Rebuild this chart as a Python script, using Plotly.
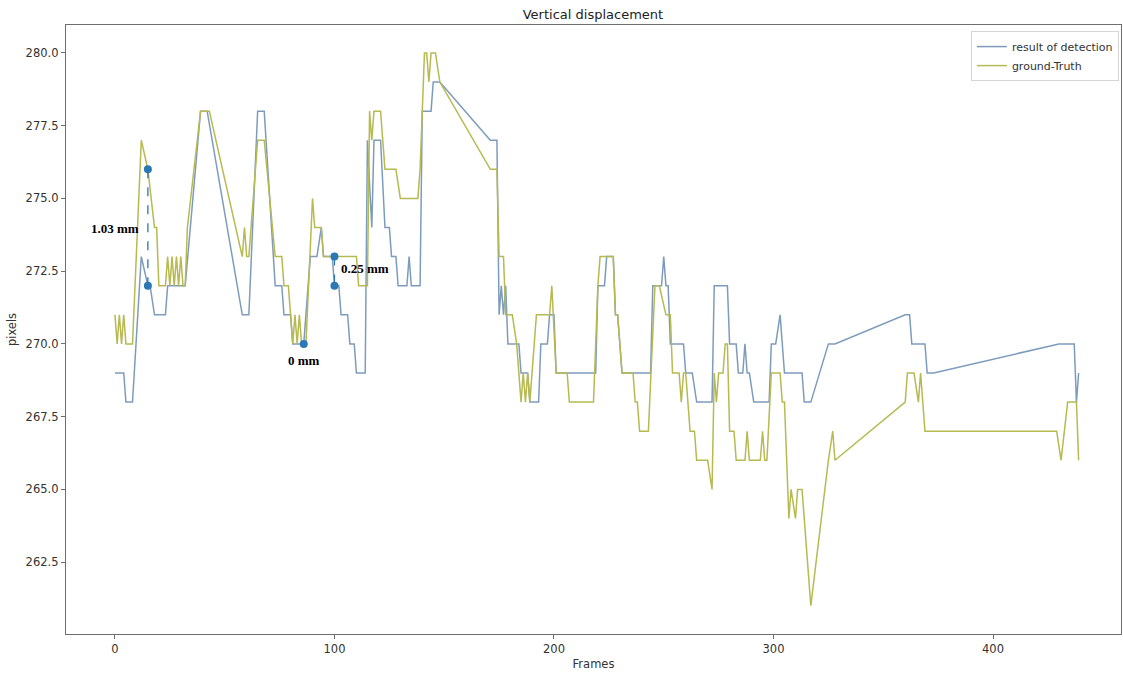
import plotly.graph_objects as go

# result of detection (vertices: frame, pixel)
DET_FRAMES = [0, 4, 5, 8, 12, 15, 16, 18, 23, 24, 32, 39, 42, 58, 61, 65, 68, 73, 76, 77, 80, 81, 86,
              89, 92, 94, 95, 99, 100, 102, 103, 106, 107, 109, 110, 114, 115, 117, 118, 121, 123, 125,
              126, 128, 129, 133, 134, 135, 139, 140, 144, 145, 148, 171, 174, 175, 176, 177, 178, 179,
              184, 185, 188, 189, 193, 194, 197, 198, 200, 201, 219, 220, 223, 224, 227, 228, 229, 231,
              244, 245, 249, 250, 251, 252, 253, 259, 260, 263, 265, 272, 273, 279, 280, 283, 284, 286,
              287, 288, 289, 291, 298, 299, 301, 303, 304, 305, 313, 314, 317, 325, 328, 360, 362, 363,
              369, 370, 373, 430, 437, 438, 439]
DET_PIXELS = [269, 269, 268, 268, 273, 272, 272, 271, 271, 272, 272, 278, 278, 271, 271, 278, 278, 272,
              272, 271, 271, 270, 270, 273, 273, 274, 273, 273, 272, 272, 271, 271, 270, 270, 269, 269,
              277, 274, 277, 277, 274, 274, 273, 273, 272, 272, 273, 272, 272, 278, 278, 279, 279, 277,
              277, 271, 272, 271, 272, 270, 270, 269, 269, 268, 268, 270, 270, 271, 271, 269, 269, 272,
              272, 273, 273, 271, 271, 269, 269, 272, 272, 273, 272, 272, 270, 270, 269, 269, 268, 268,
              272, 272, 270, 270, 269, 269, 270, 269, 269, 268, 268, 270, 270, 271, 270, 269, 269, 268,
              268, 270, 270, 271, 271, 270, 270, 269, 269, 270, 270, 268, 269]

# ground-Truth
GT_FRAMES = [0, 1, 2, 3, 4, 5, 8, 12, 15, 18, 19, 20, 23, 24, 25, 26, 27, 28, 29, 30, 31, 32, 33, 39,
             43, 58, 59, 60, 61, 65, 68, 73, 76, 77, 79, 80, 81, 82, 83, 84, 85, 87, 89, 90, 91, 94, 95,
             100, 110, 111, 115, 116, 117, 118, 121, 123, 128, 130, 138, 139, 141, 142, 143, 144, 146,
             148, 171, 174, 175, 177, 178, 181, 183, 184, 185, 186, 187, 188, 189, 190, 192, 193, 198,
             199, 201, 206, 207, 218, 220, 221, 227, 228, 229, 231, 236, 237, 238, 239, 243, 246, 248,
             251, 253, 254, 257, 258, 259, 260, 262, 264, 265, 270, 272, 273, 274, 275, 277, 278, 279,
             280, 282, 283, 287, 288, 289, 294, 295, 296, 297, 299, 303, 304, 305, 307, 308, 310, 311,
             313, 316, 317, 325, 327, 328, 360, 361, 364, 366, 367, 369, 429, 431, 434, 438, 439]
GT_PIXELS = [271, 270, 271, 270, 271, 270, 270, 277, 276, 274, 274, 272, 272, 273, 272, 273, 272, 273,
             272, 273, 272, 272, 274, 278, 278, 273, 274, 273, 273, 277, 277, 273, 273, 272, 272, 271,
             270, 271, 270, 271, 270, 270, 273, 275, 274, 274, 273, 273, 273, 272, 272, 278, 277, 278,
             278, 276, 276, 275, 275, 276, 280, 280, 279, 280, 280, 279, 276, 276, 273, 273, 271, 271,
             270, 269, 268, 269, 268, 269, 268, 269, 271, 271, 271, 272, 269, 269, 268, 268, 272, 273,
             273, 271, 271, 269, 269, 268, 268, 267, 267, 272, 272, 271, 271, 269, 269, 268, 269, 269,
             267, 267, 266, 266, 265, 269, 268, 269, 269, 270, 270, 267, 267, 266, 266, 267, 266, 266,
             267, 266, 266, 269, 269, 268, 268, 264, 265, 264, 265, 265, 262, 261, 266, 267, 266, 268,
             269, 269, 268, 269, 267, 267, 266, 268, 268, 266]

# measured error markers
MARK_FRAMES = [15, 15, 86, 100, 100]
MARK_PIXELS = [276, 272, 270, 273, 272]
LABELS = ["1.03 mm", "0 mm", "0.25 mm"]
LABEL_FRAMES = [0, 86, 114]
LABEL_PIXELS = [273.95, 269.42, 272.6]

BLUE = "#7d9cbc"
OLIVE = "#b6ba50"
MARK = "#2b78b4"
AXIS = "#6e6e6e"

fig = go.Figure()
fig.add_trace(go.Scatter(x=DET_FRAMES, y=DET_PIXELS, mode="lines", name="result of detection",
                         line=dict(color=BLUE, width=1.5)))
fig.add_trace(go.Scatter(x=GT_FRAMES, y=GT_PIXELS, mode="lines", name="ground-Truth",
                         line=dict(color=OLIVE, width=1.5)))

# dashed connectors between marker pairs
for a, b in [(0, 1), (3, 4)]:
    fig.add_trace(go.Scatter(x=[MARK_FRAMES[a], MARK_FRAMES[b]], y=[MARK_PIXELS[a], MARK_PIXELS[b]],
                             mode="lines", line=dict(color=MARK, width=1.3, dash="dash"),
                             showlegend=False, hoverinfo="skip"))
fig.add_trace(go.Scatter(x=MARK_FRAMES, y=MARK_PIXELS, mode="markers",
                         marker=dict(color=MARK, size=8), showlegend=False))

for txt, fx, py in zip(LABELS, LABEL_FRAMES, LABEL_PIXELS):
    fig.add_annotation(x=fx, y=py, text="<b>%s</b>" % txt, showarrow=False,
                       font=dict(family="Liberation Serif", size=13, color="black"))

axis_common = dict(showline=True, linecolor=AXIS, linewidth=1.3, mirror=True, ticks="outside",
                   ticklen=4, tickcolor=AXIS, showgrid=False, zeroline=False,
                   tickfont=dict(family="DejaVu Sans", size=11.5, color="#333"))

fig.update_layout(
    width=1123, height=673,
    paper_bgcolor="white", plot_bgcolor="white",
    margin=dict(l=66, r=2, t=25, b=39),
    title=dict(text="Vertical displacement", x=0.528, xanchor="center", y=1 - 14 / 673,
               yanchor="middle", font=dict(family="DejaVu Sans", size=13, color="#222")),
    xaxis=dict(range=[-22.3, 458.3], tickvals=[0, 100, 200, 300, 400],
               title=dict(text="Frames", standoff=4, font=dict(family="DejaVu Sans", size=11.5, color="#333")),
               **axis_common),
    yaxis=dict(range=[260.03, 280.96], tickvals=[262.5, 265, 267.5, 270, 272.5, 275, 277.5, 280],
               tickformat=".1f",
               title=dict(text="pixels", standoff=6, font=dict(family="DejaVu Sans", size=11.5, color="#333")),
               **axis_common),
    legend=dict(x=0.998, y=0.99, xanchor="right", yanchor="top", bgcolor="white",
                bordercolor="#d5d5d5", borderwidth=1, itemwidth=30, tracegroupgap=0,
                font=dict(family="DejaVu Sans", size=11, color="#333")),
    showlegend=True,
)

fig.write_html("out.html", config={"displayModeBar": False},
               post_script="document.body.style.margin='0';")
